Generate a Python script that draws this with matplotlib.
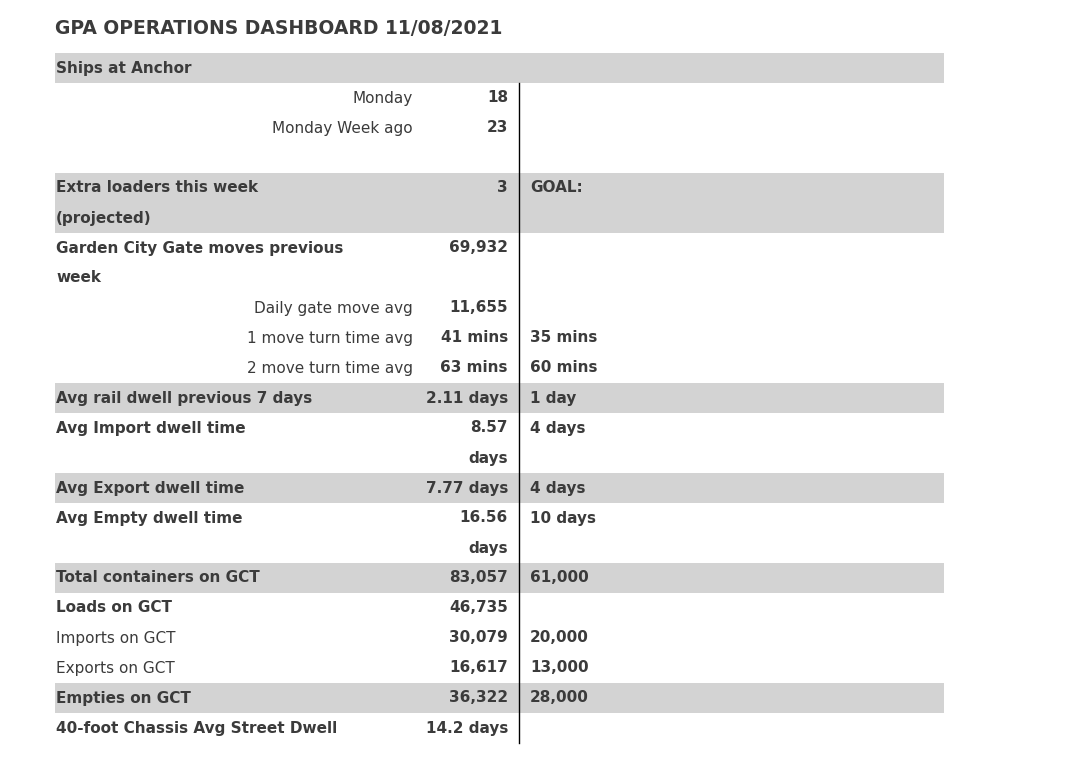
import matplotlib
matplotlib.use("Agg")
import matplotlib.pyplot as plt

TITLE = "GPA OPERATIONS DASHBOARD 11/08/2021"

# one entry per row of the dashboard
labels = ["Ships at Anchor", "Monday", "Monday Week ago", "",
          "Extra loaders this week", "(projected)",
          "Garden City Gate moves previous", "week",
          "Daily gate move avg", "1 move turn time avg", "2 move turn time avg",
          "Avg rail dwell previous 7 days", "Avg Import dwell time", "",
          "Avg Export dwell time", "Avg Empty dwell time", "",
          "Total containers on GCT", "Loads on GCT", "Imports on GCT",
          "Exports on GCT", "Empties on GCT", "40-foot Chassis Avg Street Dwell"]
values = ["", "18", "23", "", "3", "", "69,932", "", "11,655", "41 mins", "63 mins",
          "2.11 days", "8.57", "days", "7.77 days", "16.56", "days",
          "83,057", "46,735", "30,079", "16,617", "36,322", "14.2 days"]
goals = ["", "", "", "", "GOAL:", "", "", "", "", "35 mins", "60 mins",
         "1 day", "4 days", "", "4 days", "10 days", "",
         "61,000", "", "20,000", "13,000", "28,000", ""]
shaded = [0, 11, 14, 17, 21, 4, 5]
right_labels = [1, 2, 8, 9, 10]
plain_labels = [1, 2, 8, 9, 10, 19, 20]

TEXT = "#3b3b3b"
GRAY = "#d3d3d3"
ROW_H = 30
TOP = 53

fig = plt.figure(figsize=(10.87, 7.81), dpi=100)
ax = fig.add_axes([0, 0, 1, 1])
ax.set_xlim(0, 1087)
ax.set_ylim(781, 0)
ax.axis("off")

font = "DejaVu Sans"
fs = 11

ax.text(55, 28, TITLE, fontsize=13.5, fontweight="bold", color=TEXT,
        va="center", ha="left", family=font)

for i, lab in enumerate(labels):
    y0 = TOP + i * ROW_H
    yc = y0 + ROW_H / 2
    if i in shaded:
        ax.add_patch(plt.Rectangle((55, y0), 889, ROW_H, color=GRAY, lw=0, zorder=0))
    weight = "normal" if i in plain_labels else "bold"
    if i in right_labels:
        ax.text(413, yc, lab, ha="right", va="center", fontsize=fs,
                fontweight=weight, color=TEXT, family=font)
    else:
        ax.text(56, yc, lab, ha="left", va="center", fontsize=fs,
                fontweight=weight, color=TEXT, family=font)
    ax.text(508, yc, values[i], ha="right", va="center", fontsize=fs,
            fontweight="bold", color=TEXT, family=font)
    ax.text(530, yc, goals[i], ha="left", va="center", fontsize=fs,
            fontweight="bold", color=TEXT, family=font)

ax.plot([519, 519], [TOP + ROW_H, TOP + len(labels) * ROW_H], color="black", lw=1)

fig.savefig("out.png", dpi=100, facecolor="white")
